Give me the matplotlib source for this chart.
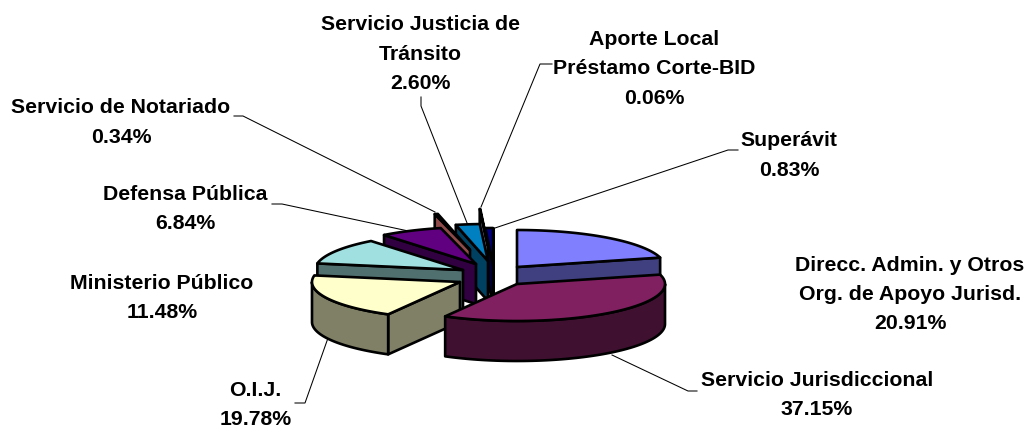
import numpy as np
import matplotlib
matplotlib.use("Agg")
import matplotlib.pyplot as plt

categories = ["Direcc. Admin. y Otros\nOrg. de Apoyo Jurisd.", "Servicio Jurisdiccional", "O.I.J.",
              "Ministerio Público", "Defensa Pública", "Servicio de Notariado",
              "Servicio Justicia de\nTránsito", "Aporte Local\nPréstamo Corte-BID", "Superávit"]
values = [20.91, 37.15, 19.78, 11.48, 6.84, 0.34, 2.60, 0.06, 0.83]

top_colors = ["#8080FF", "#802060", "#FFFFCC", "#A0E0E0", "#600080", "#FF8080", "#0080C0", "#CCCCFF", "#000080"]
side_colors = ["#404080", "#401030", "#808066", "#507070", "#300040", "#8F4A4A", "#004060", "#666680", "#000040"]

# per-slice explosion offsets (pixels) from the pie centre
explode_x = [23, 23, -34, -31, -18, -24, -6, -6, -1]
explode_y = [-8.5, 8.5, 6.5, -5.5, -11.5, -25.5, -14.5, -29.5, -10.5]
draw_order = [8, 7, 6, 5, 4, 3, 0, 2, 1]

label_pos = [(910, 294.5), (817, 395), (255.5, 405), (162, 298), (185.5, 209),
             (121, 122.5), (420.5, 54), (654, 69), (789, 155.5)]
leaders = [None,
           [(697, 391), (688, 391), (612, 355)],
           [(295, 403), (305, 403), (328, 338)],
           None,
           [(272, 204), (282, 204), (413, 232)],
           [(234, 116), (243, 116), (435, 212)],
           [(421, 97), (421, 106), (469, 228)],
           [(552, 64), (540, 64), (481, 207)],
           [(738, 150), (728, 150), (495, 228)]]

CX, CY, A, B, DEPTH = 494, 275.5, 148, 37, 40
LW = 1.9

fig = plt.figure(figsize=(10.27, 4.29), dpi=100)
ax = fig.add_axes([0, 0, 1, 1])
ax.set_xlim(0, 1027)
ax.set_ylim(429, 0)
ax.axis("off")

total = sum(values)
edges = np.concatenate([[0], np.cumsum(values)]) / total * 2 * np.pi


def rim(apex, th):
    return np.column_stack([apex[0] + A * np.sin(th), apex[1] - B * np.cos(th)])


def poly(pts, color, z):
    ax.fill(pts[:, 0], pts[:, 1], facecolor=color, edgecolor="black", lw=LW, joinstyle="round", zorder=z)


for line in leaders:
    if line:
        xs, ys = zip(*line)
        ax.plot(xs, ys, color="black", lw=0.75, zorder=1)

for rank, i in enumerate(draw_order):
    z = 2 + rank
    apex = np.array([CX + explode_x[i], CY + explode_y[i]], float)
    t0, t1 = edges[i], edges[i + 1]
    mid = (t0 + t1) / 2
    down = np.array([0, DEPTH])
    # cut faces that look towards the viewer
    for t in (t0, t1):
        outer = rim(apex, np.array([t]))[0]
        v = outer - apex
        m = rim(apex, np.array([mid]))[0] - apex
        if np.cross(v, m) * np.cross(v, down) <= 0:
            poly(np.array([apex, outer, outer + down, apex + down]), side_colors[i], z)
    # outer wall: front half of the rim only
    lo, hi = max(t0, np.pi / 2), min(t1, 3 * np.pi / 2)
    if hi > lo:
        th = np.linspace(lo, hi, 80)
        arc = rim(apex, th)
        poly(np.vstack([arc, arc[::-1] + down]), side_colors[i], z)
    # top face
    th = np.linspace(t0, t1, max(3, int((t1 - t0) * 60)))
    poly(np.vstack([apex, rim(apex, th)]), top_colors[i], z)

for name, val, (x, y) in zip(categories, values, label_pos):
    ax.text(x, y, f"{name}\n{val:.2f}%", ha="center", va="center", ma="center",
            family="Liberation Sans", weight="bold", fontsize=15.3, linespacing=1.68, color="black", zorder=20)

fig.savefig("out.png", dpi=100, facecolor="white")
